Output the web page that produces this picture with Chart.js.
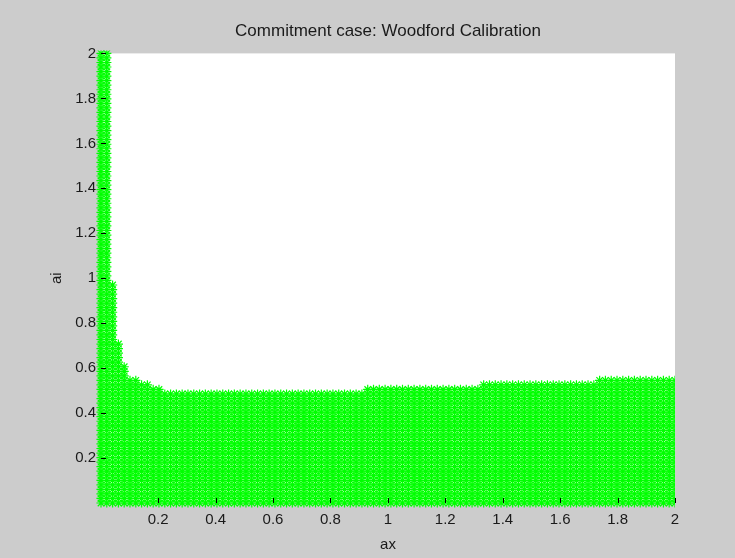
<!DOCTYPE html>
<html>
<head>
<meta charset="utf-8">
<script src="https://cdn.jsdelivr.net/npm/chart.js@4.4.1/dist/chart.umd.min.js"></script>
<style>
    html, body { margin: 0; padding: 0; background: #cccccc; }
    #wrap { width: 735px; height: 558px; }
</style>
</head>
<body>
<div id="wrap"><canvas id="regionChart" width="735" height="558"></canvas></div>
<script>
// Sweep grid used for both parameters (100 points from 0.001 to 2)
var gridMin = 0.001;
var gridMax = 2;
var gridCount = 100;

// Upper edge of the region: for ax up to limitAx[i], ai runs up to limitAi[i]
var limitAx = [0.03, 0.05, 0.07, 0.09, 0.13, 0.17, 0.21, 0.92, 1.33, 1.73, 2.0];
var limitAi = [2.0, 0.98, 0.71, 0.62, 0.55, 0.53, 0.51, 0.49, 0.51, 0.53, 0.55];

var axTicks = [0.2, 0.4, 0.6, 0.8, 1, 1.2, 1.4, 1.6, 1.8, 2];
var axTickLabels = ['0.2', '0.4', '0.6', '0.8', '1', '1.2', '1.4', '1.6', '1.8', '2'];
var aiTicks = [0.2, 0.4, 0.6, 0.8, 1, 1.2, 1.4, 1.6, 1.8, 2];
var aiTickLabels = ['0.2', '0.4', '0.6', '0.8', '1', '1.2', '1.4', '1.6', '1.8', '2'];

function gridValue(i) {
    return gridMin + i * (gridMax - gridMin) / (gridCount - 1);
}

function aiLimit(ax) {
    for (var i = 0; i < limitAx.length; i++) {
        if (ax <= limitAx[i] + 1e-9) return limitAi[i];
    }
    return limitAi[limitAi.length - 1];
}

// One star for every grid pair that falls inside the region
function buildRegion() {
    var pts = [];
    for (var i = 0; i < gridCount; i++) {
        var ax = gridValue(i);
        var aiMax = aiLimit(ax);
        for (var j = 0; j < gridCount; j++) {
            var ai = gridValue(j);
            if (ai <= aiMax + 1e-9) pts.push({ x: ax, y: ai });
        }
    }
    return pts;
}
var regionPoints = buildRegion();

var textColor = '#1a1a1a';
var fontFamily = '"Liberation Sans", Arial, Helvetica, sans-serif';

// White axes background and small inward tick marks
var axesPlugin = {
    id: 'axesBox',
    beforeDatasetsDraw: function(chart) {
        var a = chart.chartArea;
        var ctx = chart.ctx;
        ctx.save();
        ctx.fillStyle = '#ffffff';
        ctx.fillRect(a.left, a.top, a.right - a.left, a.bottom - a.top);
        ctx.restore();
    },
    afterDatasetsDraw: function(chart) {
        var a = chart.chartArea;
        var ctx = chart.ctx;
        var xs = chart.scales.x;
        var ys = chart.scales.y;
        ctx.save();
        ctx.strokeStyle = '#000000';
        ctx.lineWidth = 1;
        ctx.beginPath();
        axTicks.forEach(function(v) {
            var px = Math.round(xs.getPixelForValue(v)) + 0.5;
            ctx.moveTo(px, a.bottom);
            ctx.lineTo(px, a.bottom - 5);
        });
        aiTicks.forEach(function(v) {
            var py = Math.round(ys.getPixelForValue(v)) + 0.5;
            ctx.moveTo(a.left, py);
            ctx.lineTo(a.left + 5, py);
        });
        ctx.stroke();
        ctx.restore();
    }
};

var ctx = document.getElementById('regionChart').getContext('2d');
var regionChart = new Chart(ctx, {
    type: 'scatter',
    data: {
        datasets: [{
            label: 'region',
            data: regionPoints,
            pointStyle: 'star',
            pointRadius: 4.6,
            borderColor: '#00ff00',
            backgroundColor: '#00ff00',
            borderWidth: 1.2,
            clip: { left: 6, top: 3, right: 0, bottom: 6 }
        }]
    },
    options: {
        responsive: false,
        animation: false,
        events: [],
        layout: { padding: { top: 0, right: 60, bottom: 0, left: 0 } },
        plugins: {
            legend: { display: false },
            tooltip: { enabled: false },
            title: {
                display: true,
                fullSize: false,
                text: 'Commitment case: Woodford Calibration',
                color: textColor,
                font: { family: fontFamily, size: 17, weight: 'normal' },
                padding: { top: 21, bottom: 12 }
            }
        },
        scales: {
            x: {
                type: 'linear',
                min: gridMin,
                max: gridMax,
                grid: { display: false, drawTicks: false },
                border: { display: false },
                afterBuildTicks: function(scale) {
                    scale.ticks = axTicks.map(function(v) { return { value: v }; });
                },
                afterFit: function(scale) { scale.height = 55; },
                ticks: {
                    color: textColor,
                    font: { family: fontFamily, size: 15 },
                    padding: 8,
                    maxRotation: 0,
                    autoSkip: false,
                    callback: function(value, index) { return axTickLabels[index]; }
                },
                title: {
                    display: true,
                    text: 'ax',
                    color: textColor,
                    font: { family: fontFamily, size: 15 },
                    padding: { top: 0, bottom: 4 }
                }
            },
            y: {
                type: 'linear',
                min: gridMin,
                max: gridMax,
                grid: { display: false, drawTicks: false },
                border: { display: false },
                afterBuildTicks: function(scale) {
                    scale.ticks = aiTicks.map(function(v) { return { value: v }; });
                },
                afterFit: function(scale) { scale.width = 101; },
                ticks: {
                    color: textColor,
                    font: { family: fontFamily, size: 15 },
                    padding: 5,
                    autoSkip: false,
                    callback: function(value, index) { return aiTickLabels[index]; }
                },
                title: {
                    display: true,
                    text: 'ai',
                    color: textColor,
                    font: { family: fontFamily, size: 15 },
                    padding: { top: 48, bottom: 0 }
                }
            }
        }
    },
    plugins: [axesPlugin]
});
</script>
</body>
</html>
